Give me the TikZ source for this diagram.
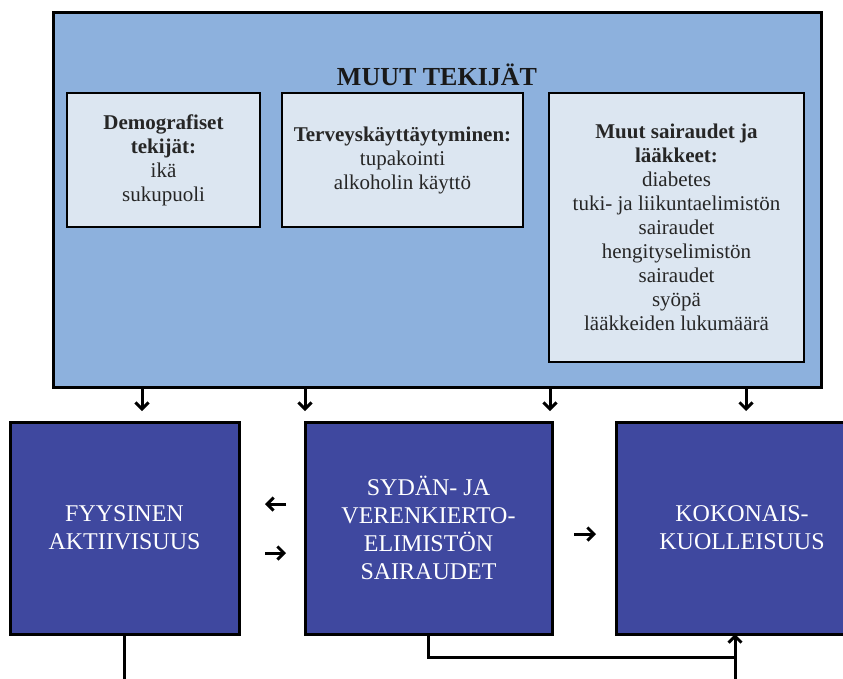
\documentclass[tikz,border=0pt]{standalone}
\usepackage{fontspec}
\setmainfont{Liberation Serif}
\usetikzlibrary{arrows.meta}
\definecolor{outerblue}{HTML}{8DB1DD}
\definecolor{innerblue}{HTML}{DCE6F1}
\definecolor{darkbox}{HTML}{3F489F}
\tikzset{
  outerbox/.style={draw=black,line width=3pt,fill=outerblue,minimum width=768pt,minimum height=375pt,inner sep=0pt},
  innerbox/.style={draw=black,line width=2.4pt,fill=innerblue,inner sep=0pt,align=center,font=\fontsize{21}{24}\selectfont,text=black!85},
  mainbox/.style={draw=black,line width=3pt,fill=darkbox,minimum height=212pt,inner sep=0pt,align=center,text=white,font=\fontsize{24}{28}\selectfont},
  titletext/.style={font=\fontsize{26}{30}\selectfont\bfseries,text=black!90,inner sep=0pt},
  tip/.style={-{Straight Barb[length=6.5pt,width=13pt,line width=3pt]}},
  arr/.style={line width=3pt,tip},
  conn/.style={line width=3pt},
}
\begin{document}
\begin{tikzpicture}[x=1pt,y=-1pt]
\useasboundingbox (0,0) rectangle (843,678);
\clip (0,0) rectangle (843,678);
\fill[white] (0,0) rectangle (843,678);
% upper frame
\node[outerbox] (outer) at (437,199.5) {};
\node[titletext] (title) at (437,75) {MUUT TEKIJÄT};
\node[innerbox,minimum width=193pt,minimum height=134pt] (demo) at (163.5,160)
  {\textbf{Demografiset}\\\textbf{tekijät:}\\ikä\\sukupuoli};
\node[innerbox,minimum width=241pt,minimum height=134pt] (terv) at (402.5,160)
  {\textbf{Terveyskäyttäytyminen:}\\tupakointi\\alkoholin käyttö};
\node[innerbox,minimum width=255pt,minimum height=269pt] (muut) at (676.5,227.5)
  {\textbf{Muut sairaudet ja}\\\textbf{lääkkeet:}\\diabetes\\tuki- ja liikuntaelimistön\\sairaudet\\hengityselimistön\\sairaudet\\syöpä\\lääkkeiden lukumäärä};
% lower boxes
\node[mainbox,minimum width=229pt] (fyys) at (124.5,528) {FYYSINEN\\AKTIIVISUUS};
\node[mainbox,minimum width=247pt] (syd) at (428.5,528) {SYDÄN- JA\\VERENKIERTO-\\ELIMISTÖN\\SAIRAUDET};
\node[mainbox,minimum width=252pt] (kok) at (742,528) {KOKONAIS-\\KUOLLEISUUS};
% down arrows
\coordinate (d1) at (142,411);
\coordinate (d2) at (305,411);
\coordinate (d3) at (550,411);
\coordinate (d4) at (746,411);
\foreach \c in {d1,d2,d3,d4}{
  \draw[arr] (outer.south -| \c) -- (\c);
}
% small horizontal arrows
\coordinate (la) at (265,504);
\coordinate (lb) at (286,504);
\coordinate (ra) at (265,553);
\coordinate (rb) at (286,553);
\coordinate (ma) at (574,534);
\coordinate (mb) at (596,534);
\draw[arr] (lb) -- (la);
\draw[arr] (ra) -- (rb);
\draw[arr] (ma) -- (mb);
% bottom connectors
\coordinate (fe) at (fyys.south |- 0,680);
\draw[conn] (fyys.south) -- (fe);
\coordinate (ce) at (735,680);
\draw[conn] (syd.south) |- (735,657);
\draw[conn,tip] (ce) -- (735,634);
\end{tikzpicture}
\end{document}
